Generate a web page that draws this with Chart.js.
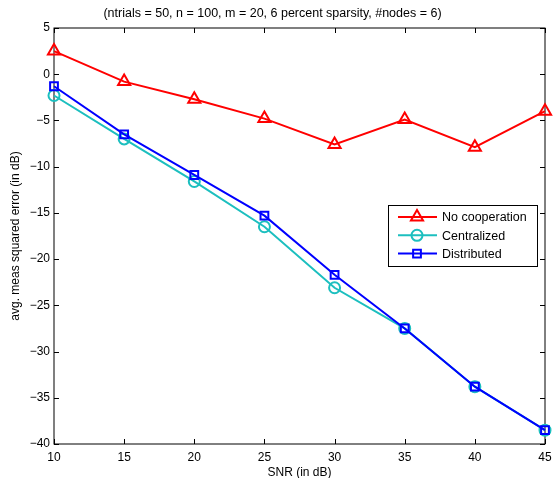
<!DOCTYPE html>
<html>
<head>
<meta charset="utf-8">
<script src="https://cdn.jsdelivr.net/npm/chart.js@4"></script>
<style>
  body { margin: 0; background: #fff; }
  #wrap { width: 554px; height: 478px; }
</style>
</head>
<body>
<div id="wrap"><canvas id="mseChart"></canvas></div>
<script>
// values
const snr = [10, 15, 20, 25, 30, 35, 40, 45];
const noCoop = [2.5, -0.8, -2.7, -4.8, -7.6, -4.9, -7.9, -4.0];
const centralized = [-2.3, -7.0, -11.6, -16.5, -23.1, -27.5, -33.8, -38.5];
const distributed = [-1.3, -6.5, -10.9, -15.3, -21.7, -27.5, -33.8, -38.5];

const FONT = 'Liberation Sans, Arial, Helvetica, sans-serif';

function toPoints(ys) {
    return snr.map((x, i) => ({ x: x, y: ys[i] }));
}

function minusSign(v) {
    return String(v).replace('-', '\u2212');
}

// MATLAB style box with inward ticks
const boxTicks = {
    id: 'boxTicks',
    beforeDatasetsDraw(chart) {
        const { ctx, chartArea: a, scales } = chart;
        ctx.save();
        ctx.strokeStyle = '#000';
        ctx.lineWidth = 1;
        ctx.strokeRect(a.left, a.top, a.right - a.left, a.bottom - a.top);
        ctx.beginPath();
        scales.x.ticks.forEach(t => {
            const px = Math.round(scales.x.getPixelForValue(t.value)) + 0.5;
            ctx.moveTo(px, a.bottom); ctx.lineTo(px, a.bottom - 5);
            ctx.moveTo(px, a.top); ctx.lineTo(px, a.top + 5);
        });
        scales.y.ticks.forEach(t => {
            const py = Math.round(scales.y.getPixelForValue(t.value)) + 0.5;
            ctx.moveTo(a.left, py); ctx.lineTo(a.left + 5, py);
            ctx.moveTo(a.right, py); ctx.lineTo(a.right - 5, py);
        });
        ctx.stroke();
        ctx.restore();
    }
};

// legend box inside the plot, like the original
const insideLegend = {
    id: 'insideLegend',
    afterDraw(chart) {
        const { ctx, chartArea: a } = chart;
        const x0 = a.right - 157, y0 = a.top + 177, w = 149, h = 61;
        ctx.save();
        ctx.fillStyle = '#fff';
        ctx.fillRect(x0, y0, w, h);
        ctx.strokeStyle = '#000';
        ctx.lineWidth = 1;
        ctx.strokeRect(x0 + 0.5, y0 + 0.5, w, h);
        ctx.font = '12.5px ' + FONT;
        ctx.textBaseline = 'middle';
        chart.data.datasets.forEach((ds, i) => {
            const y = y0 + 12 + i * 18.3;
            ctx.strokeStyle = ds.borderColor;
            ctx.lineWidth = 2;
            ctx.beginPath();
            ctx.moveTo(x0 + 10, y); ctx.lineTo(x0 + 49, y);
            ctx.stroke();
            ctx.fillStyle = 'rgba(0,0,0,0)';
            Chart.helpers.drawPoint(ctx, {
                pointStyle: ds.pointStyle,
                radius: ds.pointRadius,
                borderWidth: 2
            }, x0 + 29, y);
            ctx.fillStyle = '#000';
            ctx.fillText(ds.label, x0 + 54, y + 1);
        });
        ctx.restore();
    }
};

const ctx = document.getElementById('mseChart').getContext('2d');
const mseChart = new Chart(ctx, {
    type: 'line',
    data: {
        datasets: [
            {
                label: 'No cooperation',
                data: toPoints(noCoop),
                borderColor: '#ff0000',
                pointStyle: 'triangle',
                pointRadius: 7,
                order: 2,
            },
            {
                label: 'Centralized',
                data: toPoints(centralized),
                borderColor: '#1cbfbf',
                pointStyle: 'circle',
                pointRadius: 5.5,
                order: 1,
            },
            {
                label: 'Distributed',
                data: toPoints(distributed),
                borderColor: '#0000ff',
                pointStyle: 'rect',
                pointRadius: 5.5,
                order: 0,
            }
        ].map(d => Object.assign(d, {
            backgroundColor: 'transparent',
            pointBackgroundColor: 'transparent',
            pointBorderColor: d.borderColor,
            pointBorderWidth: 2,
            borderWidth: 2,
            tension: 0,
            clip: false,
        }))
    },
    options: {
        responsive: true,
        maintainAspectRatio: false,
        animation: false,
        layout: { padding: { left: 0, right: 9, top: 0, bottom: 0 } },
        plugins: {
            legend: { display: false },
            tooltip: { enabled: false },
            title: {
                display: true,
                text: '(ntrials = 50, n = 100, m = 20, 6 percent sparsity, #nodes = 6)',
                color: '#000',
                font: { family: FONT, size: 12.5, weight: 'normal' },
                padding: { top: 6.5, bottom: 6.5 }
            }
        },
        scales: {
            x: {
                type: 'linear',
                min: 10,
                max: 45,
                grid: { display: false, drawTicks: false },
                border: { display: false },
                afterFit: s => {
                    s.height = 34;
                    s.paddingLeft = 0;
                    s.paddingRight = 0;
                },
                ticks: {
                    stepSize: 5,
                    color: '#000',
                    padding: 6,
                    font: { family: FONT, size: 12 },
                    maxRotation: 0
                },
                title: {
                    display: true,
                    text: 'SNR (in dB)',
                    color: '#000',
                    font: { family: FONT, size: 12 },
                    padding: { top: 0, bottom: -2 }
                }
            },
            y: {
                min: -40,
                max: 5,
                grid: { display: false, drawTicks: false },
                border: { display: false },
                afterFit: s => { s.width = 54; },
                ticks: {
                    stepSize: 5,
                    color: '#000',
                    padding: 4,
                    font: { family: FONT, size: 12 },
                    callback: v => minusSign(v)
                },
                title: {
                    display: true,
                    text: 'avg. meas squared error (in dB)',
                    color: '#000',
                    font: { family: FONT, size: 12 },
                    padding: { top: 8, bottom: 0 }
                }
            }
        }
    },
    plugins: [boxTicks, insideLegend]
});
</script>
</body>
</html>
